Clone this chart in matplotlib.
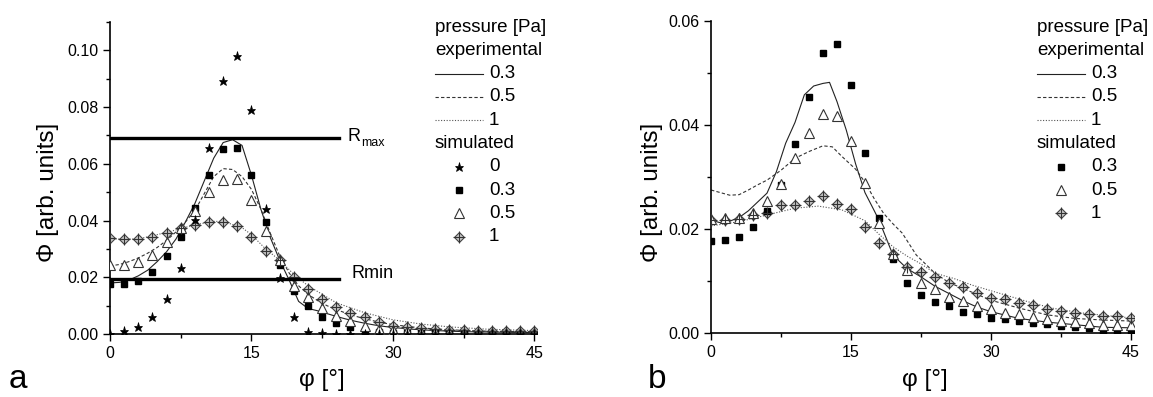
import numpy as np
import matplotlib
matplotlib.use('Agg')
import matplotlib.pyplot as plt
from matplotlib.lines import Line2D
from matplotlib.ticker import MultipleLocator, FormatStrFormatter

plt.rcParams['font.family'] = ['Liberation Sans', 'DejaVu Sans']

# ---------------- panel a data ----------------
phi_sim = np.arange(0, 45.1, 1.5)

a_sim_0 = [0.0000, 0.0012, 0.0026, 0.0061, 0.0123, 0.0234, 0.0401, 0.0656, 0.0892, 0.0979,
           0.0791, 0.0439, 0.0198, 0.0061, 0.0008, 0.0002, 0.0001, 0.0001, 0.0001, 0.0000,
           0.0000, 0.0000, 0.0000, 0.0000, 0.0000, 0.0000, 0.0000, 0.0000, 0.0000, 0.0000, 0.0000]
a_sim_03 = [0.0178, 0.0178, 0.0188, 0.0218, 0.0275, 0.0343, 0.0444, 0.0562, 0.0653, 0.0656,
            0.0560, 0.0395, 0.0245, 0.0153, 0.0099, 0.0061, 0.0040, 0.0024, 0.0012, 0.0007,
            0.0004, 0.0003, 0.0003, 0.0002, 0.0002, 0.0002, 0.0001, 0.0001, 0.0001, 0.0001, 0.0001]
a_sim_05 = [0.0243, 0.0243, 0.0255, 0.0278, 0.0325, 0.0372, 0.0434, 0.0501, 0.0542, 0.0546,
            0.0474, 0.0364, 0.0261, 0.0169, 0.0129, 0.0093, 0.0063, 0.0047, 0.0028, 0.0018,
            0.0013, 0.0010, 0.0008, 0.0007, 0.0006, 0.0005, 0.0004, 0.0004, 0.0003, 0.0003, 0.0003]
a_sim_1 = [0.0337, 0.0334, 0.0334, 0.0343, 0.0357, 0.0374, 0.0384, 0.0395, 0.0395, 0.0381,
           0.0343, 0.0293, 0.0261, 0.0202, 0.0157, 0.0123, 0.0096, 0.0075, 0.0059, 0.0043,
           0.0029, 0.0024, 0.0020, 0.0017, 0.0015, 0.0013, 0.0012, 0.0011, 0.0010, 0.0010, 0.0009]

a_exp_03_x = [0, 1, 2, 3, 4, 5, 6, 7, 8, 9, 10, 11, 12, 13, 14, 15, 16, 17, 18, 19, 20, 21, 22,
              23, 24, 25, 26, 27, 28, 29, 30, 32, 34, 36, 38, 40, 42, 45]
a_exp_03 = [0.0180, 0.0182, 0.0190, 0.0205, 0.0225, 0.0255, 0.0290, 0.0335, 0.0395, 0.0460,
            0.0540, 0.0620, 0.0675, 0.0685, 0.0665, 0.0560, 0.0440, 0.0340, 0.0260, 0.0190,
            0.0115, 0.0090, 0.0082, 0.0072, 0.0062, 0.0053, 0.0045, 0.0038, 0.0032, 0.0027,
            0.0023, 0.0017, 0.0013, 0.0010, 0.0008, 0.0007, 0.0006, 0.0005]
a_exp_05_x = a_exp_03_x
a_exp_05 = [0.0240, 0.0245, 0.0255, 0.0268, 0.0285, 0.0305, 0.0330, 0.0360, 0.0395, 0.0435,
            0.0495, 0.0555, 0.0583, 0.0580, 0.0555, 0.0510, 0.0440, 0.0355, 0.0275, 0.0215,
            0.0170, 0.0140, 0.0118, 0.0100, 0.0086, 0.0074, 0.0063, 0.0054, 0.0046, 0.0039,
            0.0033, 0.0025, 0.0019, 0.0015, 0.0012, 0.0010, 0.0009, 0.0008]
a_exp_1_x = [0, 3, 6, 9, 11, 12, 14, 15, 16.5, 18, 19.5, 21, 22.5, 24, 27, 30, 33, 36, 40, 45]
a_exp_1 = [0.0335, 0.0335, 0.0358, 0.0385, 0.0397, 0.0397, 0.0375, 0.0350, 0.0300, 0.0260,
           0.0210, 0.0170, 0.0140, 0.0110, 0.0075, 0.0050, 0.0035, 0.0025, 0.0017, 0.0012]

r_max = 0.0692
r_min = 0.0194

# ---------------- panel b data ----------------
b_sim_03 = [0.0176, 0.0178, 0.0185, 0.0203, 0.0235, 0.0285, 0.0363, 0.0454, 0.0538, 0.0556,
            0.0476, 0.0346, 0.0221, 0.0142, 0.0096, 0.0073, 0.0060, 0.0052, 0.0040, 0.0036,
            0.0028, 0.0026, 0.0023, 0.0019, 0.0017, 0.0014, 0.0012, 0.0009, 0.0004, 0.0004, 0.0004]
b_sim_05 = [0.0219, 0.0222, 0.0222, 0.0230, 0.0253, 0.0287, 0.0337, 0.0385, 0.0422, 0.0417,
            0.0370, 0.0288, 0.0211, 0.0152, 0.0122, 0.0097, 0.0084, 0.0070, 0.0062, 0.0052,
            0.0047, 0.0039, 0.0036, 0.0031, 0.0026, 0.0023, 0.0022, 0.0020, 0.0015, 0.0015, 0.0015]
b_sim_1 = [0.0217, 0.0217, 0.0219, 0.0227, 0.0231, 0.0247, 0.0247, 0.0253, 0.0263, 0.0249,
           0.0238, 0.0204, 0.0174, 0.0152, 0.0126, 0.0118, 0.0107, 0.0096, 0.0089, 0.0076,
           0.0068, 0.0065, 0.0057, 0.0054, 0.0047, 0.0042, 0.0038, 0.0036, 0.0033, 0.0033, 0.0029]

b_exp_03_x = [0, 1, 2, 3, 4, 5, 6, 7, 8, 9, 10, 11, 12, 12.7, 13.5, 14.5, 15.5, 16.5, 17.5, 18,
              19.5, 21, 22.5, 24, 25.5, 27, 28.5, 30, 33, 36, 39, 42, 45]
b_exp_03 = [0.0217, 0.0212, 0.0215, 0.0222, 0.0235, 0.0252, 0.0269, 0.0310, 0.0365, 0.0405,
            0.0458, 0.0475, 0.0480, 0.0482, 0.0445, 0.0390, 0.0325, 0.0270, 0.0235, 0.0217,
            0.0150, 0.0124, 0.0108, 0.0090, 0.0076, 0.0062, 0.0050, 0.0041, 0.0028, 0.0021,
            0.0016, 0.0011, 0.0010]
b_exp_05_x = [0, 1, 2, 3, 4, 5, 6, 7.5, 9, 10.5, 12, 13, 14, 15.5, 16.5, 17.5, 18.5, 19.5, 20.5,
              22, 24, 25.5, 27.5, 30, 33, 36, 39, 42, 45]
b_exp_05 = [0.0275, 0.0270, 0.0265, 0.0266, 0.0275, 0.0285, 0.0294, 0.0313, 0.0336, 0.0349,
            0.0360, 0.0358, 0.0340, 0.0315, 0.0290, 0.0258, 0.0230, 0.0210, 0.0192, 0.0150,
            0.0115, 0.0097, 0.0082, 0.0063, 0.0048, 0.0035, 0.0028, 0.0025, 0.0023]
b_exp_1_x = [0, 3, 6, 9, 11.5, 14, 16.5, 18, 19.5, 21, 22.5, 24, 26, 28, 31, 34, 36.5, 40, 45]
b_exp_1 = [0.0206, 0.0214, 0.0227, 0.0240, 0.0244, 0.0237, 0.0216, 0.0190, 0.0166, 0.0148,
           0.0133, 0.0115, 0.0105, 0.0092, 0.0076, 0.0060, 0.0048, 0.0038, 0.0029]

legend_a = ['0', '0.3', '0.5', '1']
legend_b = ['0.3', '0.5', '1']

# ---------------- styles ----------------
line_styles = {
    '0.3': dict(color='#222222', lw=0.8, ls='-'),
    '0.5': dict(color='#333333', lw=0.8, ls=(0, (3, 2))),
    '1': dict(color='#555555', lw=0.8, ls=(0, (1, 1.5))),
}
marker_styles = {
    '0': dict(marker='*', color='black', ms=6.5, ls='none', mew=0.5),
    '0.3': dict(marker='s', color='black', ms=5, ls='none'),
    '0.5': dict(marker='^', mfc='white', mec='#333333', ms=6.5, ls='none', mew=0.8),
}


def plot_diamonds(ax, x, y):
    ax.plot(x, y, marker='D', mfc='#c8c8c8', mec='#444444', ms=5.5, ls='none', mew=0.8, zorder=4)
    ax.plot(x, y, marker='+', color='#333333', ms=8.5, ls='none', mew=0.8, zorder=5)


def style_axes(ax, ymax, ystep):
    ax.set_xlim(0, 45.3)
    ax.set_ylim(0, ymax)
    for s in ['top', 'right']:
        ax.spines[s].set_visible(False)
    for s in ['left', 'bottom']:
        ax.spines[s].set_linewidth(1.2)
    ax.xaxis.set_major_locator(MultipleLocator(15))
    ax.xaxis.set_minor_locator(MultipleLocator(7.5))
    ax.yaxis.set_major_locator(MultipleLocator(ystep))
    ax.yaxis.set_minor_locator(MultipleLocator(ystep / 2))
    ax.yaxis.set_major_formatter(FormatStrFormatter('%.2f'))
    ax.tick_params(which='major', direction='out', length=5, width=1.0, labelsize=11.5)
    ax.tick_params(which='minor', direction='out', length=3, width=1.0)
    ax.patch.set_alpha(0)


fig = plt.figure(figsize=(11.53, 3.97), dpi=100)
ax_a = fig.add_axes([0.0954, 0.1587, 0.3705, 0.7859])
ax_b = fig.add_axes([0.6167, 0.1612, 0.3665, 0.7859])

# panel a
ax_a.plot(a_exp_03_x, a_exp_03, **line_styles['0.3'])
ax_a.plot(a_exp_05_x, a_exp_05, **line_styles['0.5'])
ax_a.plot(a_exp_1_x, a_exp_1, **line_styles['1'])
ax_a.plot(phi_sim, a_sim_0, zorder=6, **marker_styles['0'])
ax_a.plot(phi_sim, a_sim_03, zorder=5, **marker_styles['0.3'])
ax_a.plot(phi_sim, a_sim_05, zorder=5, **marker_styles['0.5'])
plot_diamonds(ax_a, phi_sim, a_sim_1)
ax_a.plot([0, 24.3], [r_max, r_max], color='black', lw=2.4, zorder=7)
ax_a.plot([0, 24.3], [r_min, r_min], color='black', lw=2.4, zorder=7)
ax_a.text(25.2, r_max + 0.0005, 'R', fontsize=13, va='center', ha='left')
ax_a.text(26.6, r_max - 0.0020, 'max', fontsize=9, va='center', ha='left')
ax_a.text(25.6, r_min + 0.0018, 'Rmin', fontsize=13, va='center', ha='left')
style_axes(ax_a, 0.11, 0.02)

# panel b
ax_b.plot(b_exp_03_x, b_exp_03, **line_styles['0.3'])
ax_b.plot(b_exp_05_x, b_exp_05, **line_styles['0.5'])
ax_b.plot(b_exp_1_x, b_exp_1, **line_styles['1'])
ax_b.plot(phi_sim, b_sim_03, zorder=5, **marker_styles['0.3'])
ax_b.plot(phi_sim, b_sim_05, zorder=5, **marker_styles['0.5'])
plot_diamonds(ax_b, phi_sim, b_sim_1)
style_axes(ax_b, 0.06, 0.02)

# axis labels and panel letters
W, H = 1153.0, 397.0
for xc in (48, 652):
    fig.text(xc / W, 1 - 192 / H, 'Φ [arb. units]', rotation=90, fontsize=17.5,
             ha='center', va='center')
for xc in (322, 925):
    fig.text(xc / W, 1 - 380 / H, 'φ [°]', fontsize=17.5, ha='center', va='center')
fig.text(18 / W, 1 - 380 / H, 'a', fontsize=24, ha='center', va='center')
fig.text(657 / W, 1 - 380 / H, 'b', fontsize=24, ha='center', va='center')


def draw_legend(x0, sim_labels):
    rows = [27 + 23.3 * i for i in range(10)]
    fs = 13.5
    fig.text(x0 / W, 1 - rows[0] / H, 'pressure [Pa]', fontsize=fs, va='center')
    fig.text(x0 / W, 1 - rows[1] / H, 'experimental', fontsize=fs, va='center')
    for i, lab in enumerate(['0.3', '0.5', '1']):
        y = 1 - rows[2 + i] / H
        fig.add_artist(Line2D([x0 / W, (x0 + 48) / W], [y, y], transform=fig.transFigure,
                              **line_styles[lab]))
        fig.text((x0 + 54) / W, y, lab, fontsize=fs, va='center')
    fig.text(x0 / W, 1 - rows[5] / H, 'simulated', fontsize=fs, va='center')
    for i, lab in enumerate(sim_labels):
        y = 1 - rows[6 + i] / H
        xm = (x0 + 24) / W
        if lab == '1':
            fig.add_artist(Line2D([xm], [y], transform=fig.transFigure, marker='D', mfc='#c8c8c8',
                                  mec='#444444', ms=5.5, ls='none', mew=0.8))
            fig.add_artist(Line2D([xm], [y], transform=fig.transFigure, marker='+', color='#333333',
                                  ms=8.5, ls='none', mew=0.8))
        else:
            fig.add_artist(Line2D([xm], [y], transform=fig.transFigure, **marker_styles[lab]))
        fig.text((x0 + 54) / W, y, lab, fontsize=fs, va='center')


draw_legend(435, legend_a)
draw_legend(1037, legend_b)

fig.savefig('out.png', dpi=100)
